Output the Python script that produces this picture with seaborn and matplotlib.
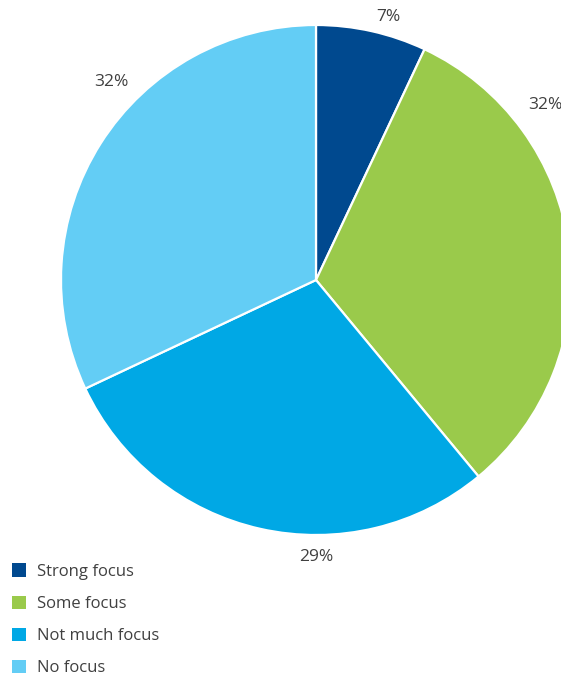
import matplotlib
matplotlib.use("Agg")
import matplotlib.pyplot as plt
import seaborn as sns
import numpy as np

categories = ["Strong focus", "Some focus", "Not much focus", "No focus"]
shares = [7, 32, 29, 32]
colors = ["#00498F", "#9ACA4B", "#00A8E5", "#63CDF5"]
value_labels = ["7%", "32%", "29%", "32%"]

sns.set_theme(style="white")
plt.rcParams["font.family"] = ["Open Sans", "DejaVu Sans"]

W, H = 561, 680
fig = plt.figure(figsize=(W / 100, H / 100), dpi=100)
ax = fig.add_axes([0, 0, 1, 1])

cx, cy, r = 316, H - 280, 255
wedges, _ = ax.pie(
    shares,
    colors=colors,
    startangle=90,
    counterclock=False,
    center=(cx, cy),
    radius=r,
    frame=True,
    wedgeprops=dict(edgecolor="white", linewidth=1.6),
)
ax.set_xlim(0, W)
ax.set_ylim(0, H)
ax.set_aspect("equal")
ax.axis("off")

# value labels placed around the rim (angle measured clockwise from top, distance in radii)
label_spots = [(15.3, 1.07), (52.6, 1.13), (180.0, 1.086), (314.0, 1.115)]
for text, (ang, dist) in zip(value_labels, label_spots):
    a = np.deg2rad(90 - ang)
    ax.text(cx + dist * r * np.cos(a), cy + dist * r * np.sin(a), text,
            ha="center", va="center", fontsize=12.5, color="#404040")

handles = [plt.Rectangle((0, 0), 1, 1, facecolor=c, edgecolor="none") for c in colors]
leg = fig.legend(handles, categories, loc="upper left",
                 bbox_to_anchor=(9 / W, 1 - 560 / H), frameon=False,
                 fontsize=12, handlelength=0.84, handleheight=0.84,
                 handletextpad=0.66, labelspacing=0.95, borderaxespad=0,
                 borderpad=0.2)
for t in leg.get_texts():
    t.set_color("#404040")

fig.savefig("out.png", dpi=100)
